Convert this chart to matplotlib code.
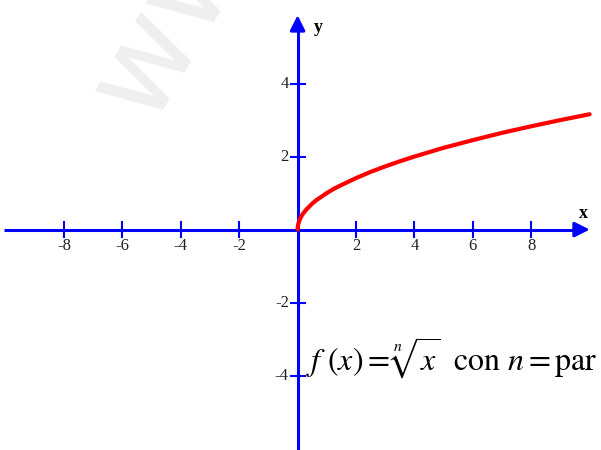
import matplotlib.pyplot as plt

curve_x = [0, 0.01, 0.03, 0.06, 0.1, 0.15, 0.2, 0.3, 0.4, 0.5, 0.65, 0.8, 1,
           1.25, 1.5, 2, 2.5, 3, 3.5, 4, 5, 6, 7, 8, 9, 10]
curve_y = [0, 0.10, 0.17, 0.24, 0.32, 0.39, 0.45, 0.55, 0.63, 0.71, 0.81, 0.89, 1,
           1.12, 1.22, 1.41, 1.58, 1.73, 1.87, 2, 2.24, 2.45, 2.65, 2.83, 3, 3.16]

x_ticks = [-8, -6, -4, -2, 2, 4, 6, 8]
y_ticks = [-4, -2, 2, 4]

blue = '#0000ff'
plt.rcParams['mathtext.fontset'] = 'stix'

fig = plt.figure(figsize=(6.01, 4.5), dpi=100)
ax = fig.add_axes([0, 0, 1, 1])
ax.set_xlim(-10.19, 10.39)
ax.set_ylim(-6.04, 6.29)
ax.axis('off')

# watermark
ax.text(-5.05, 2.86, 'ww', rotation=60, rotation_mode='anchor', fontsize=90,
        color='#efefef', family='DejaVu Sans',
        ha='left', va='baseline', zorder=0)

# axes with arrows
ax.plot([-10.05, 9.7], [0, 0], color=blue, lw=2.2, solid_capstyle='butt', zorder=2)
ax.plot([0, 0], [-6.1, 5.6], color=blue, lw=2.2, solid_capstyle='butt', zorder=2)
ax.annotate('', xy=(10.1, 0), xytext=(9.5, 0),
            arrowprops=dict(arrowstyle='-|>,head_length=0.9,head_width=0.45',
                            color=blue, lw=2.2))
ax.annotate('', xy=(0, 5.95), xytext=(0, 5.4),
            arrowprops=dict(arrowstyle='-|>,head_length=0.9,head_width=0.45',
                            color=blue, lw=2.2))

# ticks
for t in x_ticks:
    ax.plot([t, t], [-0.2, 0.2], color=blue, lw=1.5)
    ax.text(t, -0.45, str(t), ha='center', va='center', fontsize=12,
            family='Liberation Serif', color='#222222')
for t in y_ticks:
    ax.plot([-0.24, 0.24], [t, t], color=blue, lw=1.5)
    ax.text(-0.3, t, str(t), ha='right', va='center', fontsize=12,
            family='Liberation Serif', color='#222222')

ax.text(9.8, 0.45, 'x', ha='center', va='center', fontsize=13,
        family='Liberation Serif', fontweight='bold')
ax.text(0.72, 5.55, 'y', ha='center', va='center', fontsize=13,
        family='Liberation Serif', fontweight='bold')

# curve
ax.plot(curve_x, curve_y, color='red', lw=3, zorder=3, solid_capstyle='round')

# formula
ax.text(0.3, -3.52, r'$f\ \left(x\right) = \sqrt[n]{x}\;$ con $n = $par', ha='left',
        va='center', fontsize=23, family='STIXGeneral')

fig.savefig('out.png', dpi=100)
